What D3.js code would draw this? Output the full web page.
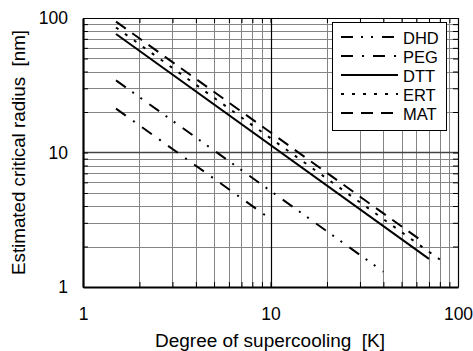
<!DOCTYPE html>
<html lang="en">
<head>
<meta charset="utf-8">
<title>Critical radius vs supercooling</title>
<script src="https://cdn.jsdelivr.net/npm/d3@7"></script>
<style>
    body { margin: 0; background: #fff; }
    svg { font-family: Arial, "Liberation Sans", sans-serif; }
    text { white-space: pre; }
    .grid line { stroke: #858585; stroke-width: 1; }
    .series { fill: none; stroke: #000; stroke-width: 2; }
</style>
</head>
<body>
<div id="chart"></div>
<script>
    // values (degree of supercooling [K], radius [nm])
    var names = ["DHD", "PEG", "DTT", "ERT", "MAT"];
    var dhd = [[1.5, 34.4], [40, 1.3]];
    var peg = [[1.5, 21.2], [10, 3.2]];
    var dtt = [[1.5, 76], [70, 1.62]];
    var ert = [[1.5, 85], [80, 1.6]];
    var mat = [[1.5, 94], [65, 2.17]];
    var dashes = ["12,8,2,8,2,9", "12,9,2,9", null, "3,8", "12,8"];
    var xTickLabels = [1, 10, 100];
    var yTickLabels = [1, 10, 100];

    var W = 473, H = 351;
    var m = {left: 83, right: 458, top: 18, bottom: 287};

    var svg = d3.select("#chart").append("svg")
        .attr("width", W)
        .attr("height", H);

    var x = d3.scaleLog().domain([1, 100]).range([m.left, m.right]);
    var y = d3.scaleLog().domain([1, 100]).range([m.bottom, m.top]);

    // minor grid
    var grid = svg.append("g").attr("class", "grid");
    grid.selectAll(".vg")
        .data(x.ticks().filter(function(d) { return d > 1 && d < 100 && d != 10 }))
        .enter().append("line")
            .attr("x1", function(d) { return Math.round(x(d)) + 0.5 })
            .attr("x2", function(d) { return Math.round(x(d)) + 0.5 })
            .attr("y1", m.top).attr("y2", m.bottom);
    grid.selectAll(".hg")
        .data(y.ticks().filter(function(d) { return d > 1 && d < 100 && d != 10 }))
        .enter().append("line")
            .attr("y1", function(d) { return Math.round(y(d)) + 0.5 })
            .attr("y2", function(d) { return Math.round(y(d)) + 0.5 })
            .attr("x1", m.left).attr("x2", m.right);
    // decade lines
    svg.append("line")
        .attr("x1", Math.round(x(10)) + 0.5).attr("x2", Math.round(x(10)) + 0.5)
        .attr("y1", m.top).attr("y2", m.bottom)
        .attr("stroke", "#000").attr("stroke-width", 1.2);
    svg.append("line")
        .attr("y1", y(10)).attr("y2", y(10))
        .attr("x1", m.left).attr("x2", m.right)
        .attr("stroke", "#444").attr("stroke-width", 1.6);

    var fmt = function(d) { return xTickLabels.indexOf(d) >= 0 ? d : "" };
    var yfmt = function(d) { return yTickLabels.indexOf(d) >= 0 ? d : "" };

    var axB = svg.append("g").attr("transform", "translate(0," + m.bottom + ")")
        .call(d3.axisBottom(x).tickValues(x.ticks()).tickSizeInner(-5).tickSizeOuter(0).tickPadding(21).tickFormat(fmt));
    var axL = svg.append("g").attr("transform", "translate(" + m.left + ",0)")
        .call(d3.axisLeft(y).tickValues(y.ticks()).tickSizeInner(-5).tickSizeOuter(0).tickPadding(15).tickFormat(yfmt));
    var axT = svg.append("g").attr("transform", "translate(0," + m.top + ")")
        .call(d3.axisTop(x).tickValues(x.ticks()).tickSizeInner(-5).tickSizeOuter(0).tickFormat(""));
    var axR = svg.append("g").attr("transform", "translate(" + m.right + ",0)")
        .call(d3.axisRight(y).tickValues(y.ticks()).tickSizeInner(-5).tickSizeOuter(0).tickFormat(""));

    [axB, axL, axT, axR].forEach(function(a) {
        a.selectAll("text").attr("font-size", 17.5).attr("font-family", "Arial, 'Liberation Sans', sans-serif").attr("fill", "#000");
        a.selectAll(".tick line").attr("stroke", "#000");
    });
    axB.select(".domain").attr("stroke-width", 2.2);
    axL.select(".domain").attr("stroke-width", 2.2);
    axT.select(".domain").attr("stroke-width", 1.2);
    axR.select(".domain").attr("stroke-width", 1.2);

    // series
    var line = d3.line()
        .x(function(d) { return x(d[0]) })
        .y(function(d) { return y(d[1]) });
    var all = [dhd, peg, dtt, ert, mat];
    svg.selectAll(".series")
        .data(all)
        .enter().append("path")
            .attr("class", "series")
            .attr("d", line)
            .attr("stroke-dasharray", function(d, i) { return dashes[i] });

    // legend
    var lg = svg.append("g");
    lg.append("rect")
        .attr("x", 332.5).attr("y", 22.5)
        .attr("width", 114).attr("height", 108)
        .attr("fill", "#fff").attr("stroke", "#000").attr("stroke-width", 1);
    names.forEach(function(n, i) {
        var ly = 37 + i * 19;
        lg.append("line")
            .attr("x1", 341).attr("x2", 398)
            .attr("y1", ly).attr("y2", ly)
            .attr("class", "series")
            .attr("stroke-dasharray", dashes[i]);
        lg.append("text")
            .attr("x", 403).attr("y", ly + 6.5)
            .attr("font-size", 16.5)
            .text(n);
    });

    // axis titles
    svg.append("text")
        .attr("x", 155).attr("y", 347)
        .attr("font-size", 17.5)
        .attr("textLength", 230)
        .attr("lengthAdjust", "spacingAndGlyphs")
        .text("Degree of supercooling  [K]");
    svg.append("text")
        .attr("transform", "translate(25,275) rotate(-90)")
        .attr("font-size", 17.5)
        .attr("textLength", 245)
        .attr("lengthAdjust", "spacingAndGlyphs")
        .text("Estimated critical radius  [nm]");
</script>
</body>
</html>
